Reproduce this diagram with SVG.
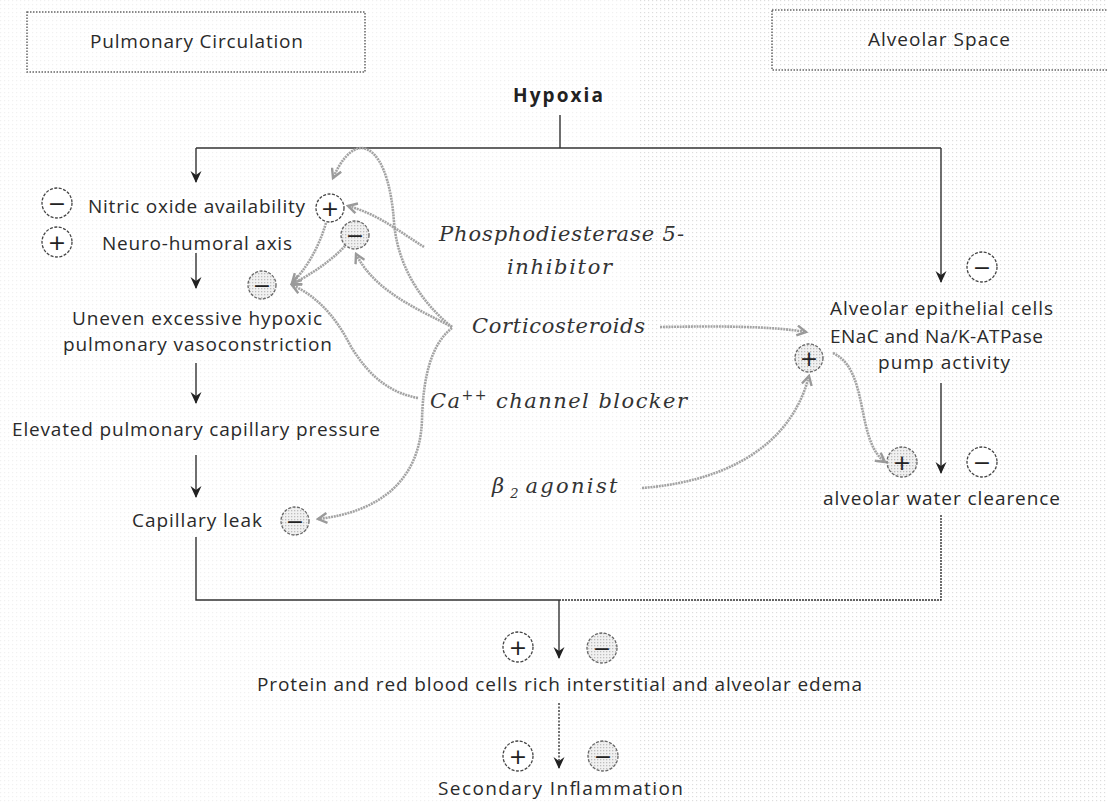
<svg xmlns="http://www.w3.org/2000/svg" width="1107" height="803" viewBox="0 0 1107 803">
<defs>
<pattern id="dots" width="4" height="4" patternUnits="userSpaceOnUse"><rect width="1.2" height="1.2" fill="#cfcfcf"/></pattern>
<pattern id="gdots" width="3" height="3" patternUnits="userSpaceOnUse"><rect width="3" height="3" fill="#f1f1f1"/><rect width="1.3" height="1.3" fill="#bdbdbd"/></pattern>
<marker id="ba" viewBox="0 0 12 12" refX="11" refY="6" markerWidth="12" markerHeight="12" markerUnits="userSpaceOnUse" orient="auto"><path d="M0,0.5 L12,6 L0,11.5 L4,6 z" fill="#222"/></marker>
<marker id="ga" viewBox="0 0 12 12" refX="10" refY="6" markerWidth="12" markerHeight="12" markerUnits="userSpaceOnUse" orient="auto"><path d="M1,1 L10,6 L1,11" fill="none" stroke="#9a9a9a" stroke-width="2.4"/></marker>
<style>
.t{font-family:"Open Sans","Liberation Sans",sans-serif;font-size:19px;fill:#2a2a2a}
.b{font-weight:bold;font-size:19px;fill:#222}
.d{font-family:"DejaVu Serif","Liberation Serif",serif;font-style:italic;font-size:21px;fill:#333}
.box{fill:none;stroke:#666;stroke-width:1.5;stroke-dasharray:1.5 1.5}
.ln{fill:none;stroke:#333;stroke-width:1.4}
.gl{fill:none;stroke:#a3a3a3;stroke-width:2.6;stroke-dasharray:2 0.8}
.cw{fill:#fff;stroke:#444;stroke-width:1.3;stroke-dasharray:3 1.5}
.cg{fill:url(#gdots);stroke:#666;stroke-width:1.3;stroke-dasharray:3 1.5}
.s{font-family:"DejaVu Sans","Liberation Sans",sans-serif;font-size:22px;fill:#222;text-anchor:middle}
</style>
</defs>
<rect width="1107" height="803" fill="#fff"/>
<rect x="640" width="467" height="803" fill="url(#dots)" opacity="0.7"/>
<rect width="640" height="803" fill="url(#dots)" opacity="0.3"/>

<g id="box-pulmonary">
<rect x="27" y="12" width="338" height="60" fill="#fff" class="box"/>
<text class="t" x="90" y="48" textLength="213">Pulmonary Circulation</text>
</g>
<g id="box-alveolar">
<rect x="772" y="10" width="340" height="60" fill="url(#dots)" class="box"/>
<text class="t" x="868" y="46" textLength="142">Alveolar Space</text>
</g>

<g id="connectors">
<path class="ln" d="M560,115 V148"/>
<path class="ln" d="M196,148 H941"/>
<path class="ln" d="M196,148 V182" marker-end="url(#ba)"/>
<path class="ln" d="M941,148 V282" marker-end="url(#ba)"/>
<path class="ln" d="M196,253 V288" marker-end="url(#ba)"/>
<path class="ln" d="M196,363 V403" marker-end="url(#ba)"/>
<path class="ln" d="M196,455 V497" marker-end="url(#ba)"/>
<path class="ln" d="M196,537 V600 H559"/>
<path class="ln" d="M559,600 H941 V515" stroke-dasharray="2 1"/>
<path class="ln" d="M559,600 V658" marker-end="url(#ba)"/>
<path class="ln" d="M941,383 V473" marker-end="url(#ba)"/>
<path class="ln" d="M559,703 V768" stroke-dasharray="2 1.5" marker-end="url(#ba)"/>

<path class="gl" d="M424,247 C400,232 378,214 348,206" marker-end="url(#ga)"/>
<path class="gl" d="M452,327 C418,300 397,262 394,222 C391,180 380,150 362,148 C350,148 340,162 333,178" marker-end="url(#ga)"/>
<path class="gl" d="M452,327 C420,310 375,292 356,254" marker-end="url(#ga)"/>
<path class="gl" d="M326,223 C318,250 305,270 292,283" marker-end="url(#ga)"/>
<path class="gl" d="M345,246 C330,262 310,275 292,284" marker-end="url(#ga)"/>
<path class="gl" d="M418,398 C385,392 365,370 350,345 C335,315 315,295 292,285" marker-end="url(#ga)"/>
<path class="gl" d="M452,328 C430,345 423,380 422,420 C420,480 380,512 318,519" marker-end="url(#ga)"/>
<path class="gl" d="M660,327 C720,326 770,326 806,332" marker-end="url(#ga)"/>
<path class="gl" d="M642,488 C720,482 790,450 809,376" marker-end="url(#ga)"/>
<path class="gl" d="M833,353 C870,370 855,440 885,462" marker-end="url(#ga)"/>
</g>

<g id="hypoxia"><text class="t b" x="513" y="102" textLength="90">Hypoxia</text></g>

<g id="nitric-oxide">
<circle class="cw" cx="57" cy="203" r="15"/><text class="s" x="57" y="211">−</text>
<text class="t" x="88" y="213" textLength="217">Nitric oxide availability</text>
<circle class="cw" cx="330" cy="208" r="14"/><text class="s" x="330" y="216">+</text>
</g>
<g id="neuro-humoral">
<circle class="cw" cx="57" cy="242" r="15"/><text class="s" x="57" y="250">+</text>
<text class="t" x="102" y="250" textLength="190">Neuro-humoral axis</text>
<circle class="cg" cx="355" cy="235" r="14"/><text class="s" x="355" y="243">−</text>
</g>
<g id="vasoconstriction">
<circle class="cg" cx="262" cy="285" r="14"/><text class="s" x="262" y="293">−</text>
<text class="t" x="72" y="325" textLength="250">Uneven excessive hypoxic</text>
<text class="t" x="63" y="351" textLength="269">pulmonary vasoconstriction</text>
</g>
<g id="capillary-pressure">
<text class="t" x="12" y="436" textLength="368">Elevated pulmonary capillary pressure</text>
</g>
<g id="capillary-leak">
<text class="t" x="132" y="527" textLength="130">Capillary leak</text>
<circle class="cg" cx="295" cy="521" r="14"/><text class="s" x="295" y="529">−</text>
</g>

<g id="pde5">
<text class="d" x="439" y="241" textLength="245">Phosphodiesterase 5-</text>
<text class="d" x="507" y="274" textLength="105">inhibitor</text>
</g>
<g id="corticosteroids"><text class="d" x="472" y="333" textLength="173">Corticosteroids</text></g>
<g id="ca-blocker"><text class="d" x="430" y="408" textLength="257">Ca<tspan font-size="14" dy="-8">++</tspan><tspan dy="8"> channel blocker</tspan></text></g>
<g id="beta2"><text class="d" x="492" y="493">β<tspan font-size="13" dx="6" dy="5">2</tspan><tspan dx="7" dy="-5" textLength="92">agonist</tspan></text></g>

<g id="alveolar-epithelial">
<circle class="cw" cx="982" cy="267" r="15"/><text class="s" x="982" y="275">−</text>
<circle class="cg" cx="809" cy="358" r="14"/><text class="s" x="809" y="366">+</text>
<text class="t" x="830" y="315" textLength="223">Alveolar epithelial cells</text>
<text class="t" x="830" y="343" textLength="213">ENaC and Na/K-ATPase</text>
<text class="t" x="878" y="369" textLength="132">pump activity</text>
</g>
<g id="water-clearance">
<circle class="cg" cx="902" cy="462" r="15"/><text class="s" x="902" y="470">+</text>
<circle class="cw" cx="982" cy="462" r="15"/><text class="s" x="982" y="470">−</text>
<text class="t" x="823" y="505" textLength="237">alveolar water clearence</text>
</g>
<g id="edema">
<circle class="cw" cx="518" cy="647" r="15"/><text class="s" x="518" y="655">+</text>
<circle class="cg" cx="602" cy="648" r="15"/><text class="s" x="602" y="656">−</text>
<text class="t" x="257" y="691" textLength="605">Protein and red blood cells rich interstitial and alveolar edema</text>
</g>
<g id="inflammation">
<circle class="cw" cx="518" cy="756" r="15"/><text class="s" x="518" y="764">+</text>
<circle class="cg" cx="603" cy="756" r="15"/><text class="s" x="603" y="764">−</text>
<text class="t" x="438" y="795" textLength="245">Secondary Inflammation</text>
</g>
</svg>
